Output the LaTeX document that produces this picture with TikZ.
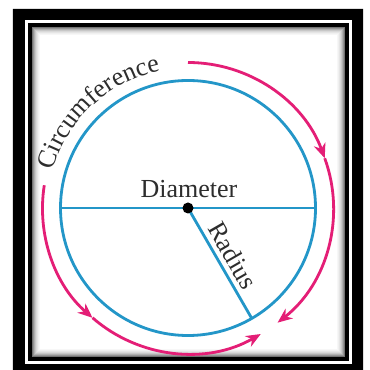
\documentclass[tikz,border=0pt]{standalone}
\usepackage{fontspec}
\setmainfont{Liberation Serif}
\usetikzlibrary{arrows.meta, decorations.text}
\definecolor{circblue}{RGB}{35,150,200}
\definecolor{arcpink}{RGB}{228,30,118}
\definecolor{labelgray}{RGB}{45,45,45}
\tikzset{
  rimline/.style={line width=2.1pt, color=circblue},
  arcarrow/.style={-{Stealth[length=11pt, width=9pt, inset=3.5pt]},
    line width=2.1pt, color=arcpink},
  labeltext/.style={font=\fontsize{19.5}{23}\selectfont, text=labelgray},
}

\begin{document}
\begin{tikzpicture}[x=0.75pt, y=0.75pt]
  \useasboundingbox (-188,-162) rectangle (181,208);
  \fill[white] (-188,-162) rectangle (181,208);

  % Frame with inner line and shadow
  \fill[black, even odd rule] (-175,-170) rectangle (175,199)
    (-163,-156) rectangle (164,188);
  \draw[black, line width=3pt] (-158,-151) rectangle (159,183);
  \foreach \i/\g in {1/55,2/42,3/31,4/22,5/15,6/10,7/6,8/3}
    \draw[black!\g, line width=0.75pt]
      ({-156.5+\i},{-149.5+\i}) rectangle ({157.5-\i},{181.5-\i});

  % Circle, diameter and radius
  \coordinate (O) at (0,0);
  \coordinate (dl) at (180:127.5);
  \coordinate (dr) at (0:127.5);
  \coordinate (rd) at (-60:127.5);
  \draw[rimline] (O) circle[radius=127.5];
  \draw[rimline] (dl) -- (dr);
  \draw[rimline] (O) -- (rd)
    node[midway, sloped, above, labeltext] (radlbl) {Radius};
  \fill (O) circle[radius=5.5];
  \node[labeltext, anchor=base] (diamlbl) at (1,10) {Diameter};

  % Label along the rim
  \path[decorate, decoration={text along path, text align=center,
      text color=labelgray,
      text={|\fontsize{19.5}{23}\selectfont|Circumference}}]
    (175:140) arc[start angle=175, end angle=91, radius=140];

  % Arrows round the circle
  \draw[arcarrow] (90:145.5) arc[start angle=90, end angle=20, radius=145.5];
  \draw[arcarrow] (20:145.5) arc[start angle=20, end angle=-52, radius=145.5];
  \draw[arcarrow] (171:145.5) arc[start angle=171, end angle=229, radius=145.5];
  \draw[arcarrow] (229:145.5) arc[start angle=229, end angle=300, radius=145.5];
\end{tikzpicture}
\end{document}
